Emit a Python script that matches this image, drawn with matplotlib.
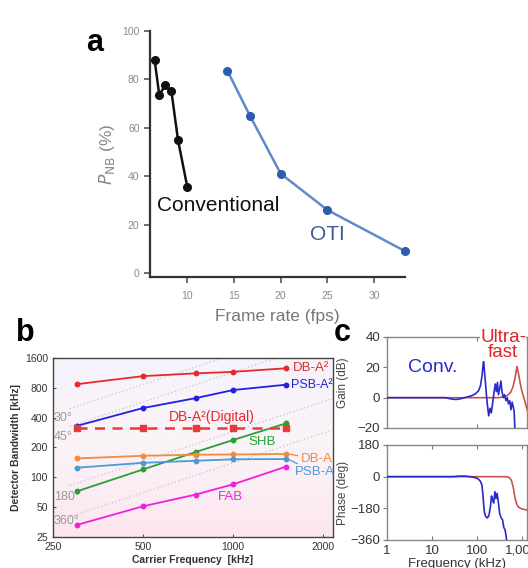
import matplotlib
matplotlib.use('Agg')
import matplotlib.pyplot as plt
import numpy as np
from matplotlib.colors import LinearSegmentedColormap

plt.rcParams['font.family'] = ['Liberation Sans', 'DejaVu Sans']

# ---- panel a: P_NB vs frame rate
conv_fps = [6.5, 7.0, 7.6, 8.3, 9.0, 10.0]
conv_pnb = [88, 73.5, 77.5, 75, 55, 35.5]
oti_fps = [14.3, 16.7, 20.0, 25.0, 33.3]
oti_pnb = [83.5, 65, 41, 26, 9]

# ---- panel b: detector bandwidth vs carrier frequency
carrier = [300, 500, 750, 1000, 1500]
db_a2 = [870, 1050, 1120, 1160, 1260]
psb_a2 = [330, 500, 630, 760, 860]
db_a2_digital = [318, 318, 318, 318, 318]
shb = [72, 120, 180, 238, 350]
db_a = [155, 165, 169, 170, 172]
psb_a = [125, 140, 147, 152, 153]
fab = [33, 51, 67, 85, 128]
guide_names = ['30°', '45°', '180°', '360°']
guide_ratio = [1.73, 1.15, 0.29, 0.14]   # bandwidth / carrier along each phase line
guide_label_y = [400, 256, 63, 36]

# ---- panel c: bode plots
conv_gain_f = [1, 20, 26, 34, 45, 58, 75, 92, 108, 120, 130, 140, 147, 155, 163, 172, 182,
               195, 208, 222, 238, 255, 270, 285, 300, 320, 340, 360, 385, 410, 440, 470,
               500, 535, 570, 605, 640, 670, 695, 720]
conv_gain_db = [0, 0, -0.8, -1.2, -0.6, 0.3, 1.2, 2.5, 4.5, 8, 15, 25, 17, 9, 1, -6, -12,
                -7, -10, -4, 3, 9, 4, 10, 2, 6, 11, 4, 0, 2, -2, 0,
                -4, -2, -8, -3, -6, -9, -20, -30]
fast_gain_f = [1, 300, 400, 480, 560, 630, 690, 740, 775, 810, 860, 920, 1000, 1100, 1200, 1300]
fast_gain_db = [0, 0, 0.5, 1.5, 3.5, 7, 12, 17, 20.5, 18, 14, 9, 4, 0, -4, -8]
conv_phase_f = [1, 30, 40, 55, 70, 90, 105, 118, 128, 134, 140, 146, 155, 170, 185, 200,
                210, 222, 235, 250, 265, 280, 300, 320, 345, 370, 395, 420, 445, 465]
conv_phase_deg = [0, 0, 3, 3, 0, -5, -12, -25, -45, -90, -150, -200, -225, -235, -220, -165,
                  -110, -130, -150, -85, -125, -95, -150, -210, -235, -245, -290, -300, -340, -380]
fast_phase_f = [1, 450, 520, 580, 640, 700, 760, 820, 900, 1000, 1100, 1300]
fast_phase_deg = [0, 0, -5, -20, -60, -120, -155, -170, -178, -183, -186, -190]

fig = plt.figure(figsize=(5.28, 5.68), dpi=100)

# ================= panel a =================
ax = fig.add_axes([0.284, 0.5123, 0.483, 0.4331])
ax.plot(conv_fps, conv_pnb, '-o', color='#111111', lw=1.8, ms=5.5, clip_on=False, zorder=3)
ax.plot(oti_fps, oti_pnb, '-', color='#5f8acb', lw=1.8, clip_on=False, zorder=3)
ax.plot(oti_fps, oti_pnb, 'o', color='#2d5cab', ms=5.5, clip_on=False, zorder=4)
ax.set_xlim(6.0, 33.3)
ax.set_ylim(-1.7, 100)
ax.spines['top'].set_visible(False)
ax.spines['right'].set_visible(False)
for s in ['left', 'bottom']:
    ax.spines[s].set_color('#333333')
    ax.spines[s].set_linewidth(1.6)
ax.set_xticks([10, 15, 20, 25, 30])
ax.set_yticks([0, 20, 40, 60, 80, 100])
ax.tick_params(axis='both', colors='#555555', labelcolor='#8a8a8a', labelsize=7.5,
               length=4, width=1.2)
ax.tick_params(axis='x', pad=6)
ax.set_xlabel('Frame rate (fps)', fontsize=12.5, color='#777777', labelpad=6)
ax.set_ylabel(r'$P_{\rm NB}$ (%)', fontsize=12.5, color='#888888', labelpad=4)
ax.text(6.8, 28, 'Conventional', fontsize=15, color='#111111', va='center', ha='left')
ax.text(23.1, 15.7, 'OTI', fontsize=15, color='#3a5a9a', va='center', ha='left')
fig.text(0.18, 0.925, 'a', fontsize=22, fontweight='bold', ha='center', va='center')

# ================= panel b =================
bx = fig.add_axes([0.100, 0.0546, 0.530, 0.3151])
cmap = LinearSegmentedColormap.from_list('bg', ['#f6f3fb', '#fbf3f8', '#fde6ef'])
bx.imshow(np.linspace(0, 1, 256).reshape(-1, 1), cmap=cmap, extent=[0, 1, 0, 1],
          transform=bx.transAxes, aspect='auto', zorder=0)
bx.set_xscale('log')
bx.set_yscale('log')
for name, r, ly in zip(guide_names, guide_ratio, guide_label_y):
    bx.plot([285, 2150], [285 * r, 2150 * r], ':', color='#cccccc', lw=1.0, zorder=1)
    bx.text(252, ly, name, fontsize=9, color='#9a9a9a', va='center', ha='left', zorder=2)

series = [
    (db_a2, '#e8282c'),
    (psb_a2, '#2020e0'),
    (shb, '#28a035'),
    (db_a, '#f08c40'),
    (psb_a, '#4c9ad6'),
    (fab, '#f020e0'),
]
for vals, col in series:
    bx.plot(carrier, vals, '-o', color=col, lw=1.3, ms=3.2, zorder=3)
bx.plot(carrier, db_a2_digital, '--s', color='#e83a3a', lw=1.8, ms=4, dashes=(4, 3), zorder=3)

bx.text(1580, 1275, 'DB-A²', color='#e8282c', fontsize=9.5, va='center', ha='left')
bx.text(1560, 857, 'PSB-A²', color='#2020e0', fontsize=9, va='center', ha='left')
bx.text(850, 408, 'DB-A²(Digital)', color='#e8282c', fontsize=10, va='center', ha='center')
bx.text(1250, 228, 'SHB', color='#28a035', fontsize=9.5, va='center', ha='center')
bx.text(980, 63, 'FAB', color='#f020e0', fontsize=9.5, va='center', ha='center')
bx.annotate('DB-A', xy=(1530, 172), xytext=(1680, 152), color='#f08c40', fontsize=9.5,
            va='center', ha='left',
            arrowprops=dict(arrowstyle='-', color='#f08c40', lw=0.9, shrinkA=0, shrinkB=0))
bx.annotate('PSB-A', xy=(1530, 152), xytext=(1610, 112), color='#4c9ad6', fontsize=9.5,
            va='center', ha='left',
            arrowprops=dict(arrowstyle='-', color='#4c9ad6', lw=0.9, shrinkA=0, shrinkB=0))

bx.set_xlim(250, 2150)
bx.set_ylim(25, 1600)
bx.set_xticks([250, 500, 1000, 2000])
bx.set_xticklabels(['250', '500', '1000', '2000'])
bx.set_yticks([25, 50, 100, 200, 400, 800, 1600])
bx.set_yticklabels(['25', '50', '100', '200', '400', '800', '1600'])
bx.minorticks_off()
bx.tick_params(axis='both', labelsize=7.5, labelcolor='#333333', length=2, direction='in',
               color='#555555')
for s in bx.spines.values():
    s.set_color('#444444')
    s.set_linewidth(1.0)
bx.set_xlabel('Carrier Frequency  [kHz]', fontsize=7.5, fontweight='bold', color='#333333',
              labelpad=2)
bx.set_ylabel('Detector Bandwidth [kHz]', fontsize=7.5, fontweight='bold', color='#333333',
              labelpad=3)
fig.text(0.047, 0.413, 'b', fontsize=22, fontweight='bold', ha='center', va='center')

# ================= panel c =================
cg = fig.add_axes([0.733, 0.2465, 0.265, 0.1602])
cp = fig.add_axes([0.733, 0.0493, 0.265, 0.1673])
for a in (cg, cp):
    a.set_xscale('log')
    a.set_xlim(1, 1290)
    for s in a.spines.values():
        s.set_color('#888888')
        s.set_linewidth(1.0)
    a.tick_params(axis='x', which='both', direction='in', top=True, bottom=True,
                  color='#777777', labelsize=9.5, labelcolor='#333333')
    a.tick_params(axis='x', which='major', length=3)
    a.tick_params(axis='x', which='minor', length=2)
    a.tick_params(axis='y', direction='out', length=3, color='#777777',
                  labelsize=9.5, labelcolor='#333333', pad=2)

cg.plot(fast_gain_f, fast_gain_db, '-', color='#b5483c', lw=1.1, zorder=2)
cg.plot(fast_gain_f, fast_gain_db, ':', color='#f06060', lw=0.8, zorder=2)
cg.plot(conv_gain_f, conv_gain_db, '-', color='#2a2ac8', lw=1.2, zorder=3)
cg.set_ylim(-20, 40)
cg.set_yticks([-20, 0, 20, 40])
cg.tick_params(axis='x', labelbottom=False)
cg.set_ylabel('Gain (dB)', fontsize=8.5, color='#444444')
cg.yaxis.set_label_coords(-0.275, 0.5)
cg.text(2.9, 20, 'Conv.', fontsize=14, color='#2a2ad0', va='center', ha='left')
cg.text(380, 34.5, 'Ultra-\nfast', fontsize=13.5, color='#e02424', va='center', ha='center',
        linespacing=0.85, bbox=dict(facecolor='white', edgecolor='none', pad=0), zorder=5)

cp.plot(fast_phase_f, fast_phase_deg, '-', color='#b5483c', lw=1.1, zorder=2)
cp.plot(fast_phase_f, fast_phase_deg, ':', color='#f06060', lw=0.8, zorder=2)
cp.plot(conv_phase_f, conv_phase_deg, '-', color='#2a2ac8', lw=1.2, zorder=3)
cp.set_ylim(-360, 180)
cp.set_yticks([-360, -180, 0, 180])
cp.set_xticks([1, 10, 100, 1000])
cp.set_xticklabels(['1', '10', '100', '1,000'])
cp.set_ylabel('Phase (deg)', fontsize=8.5, color='#444444')
cp.yaxis.set_label_coords(-0.275, 0.5)
cp.set_xlabel('Frequency (kHz)', fontsize=9.5, color='#333333', labelpad=1)
fig.text(0.648, 0.414, 'c', fontsize=22, fontweight='bold', ha='center', va='center')

fig.savefig('out.png', dpi=100)
